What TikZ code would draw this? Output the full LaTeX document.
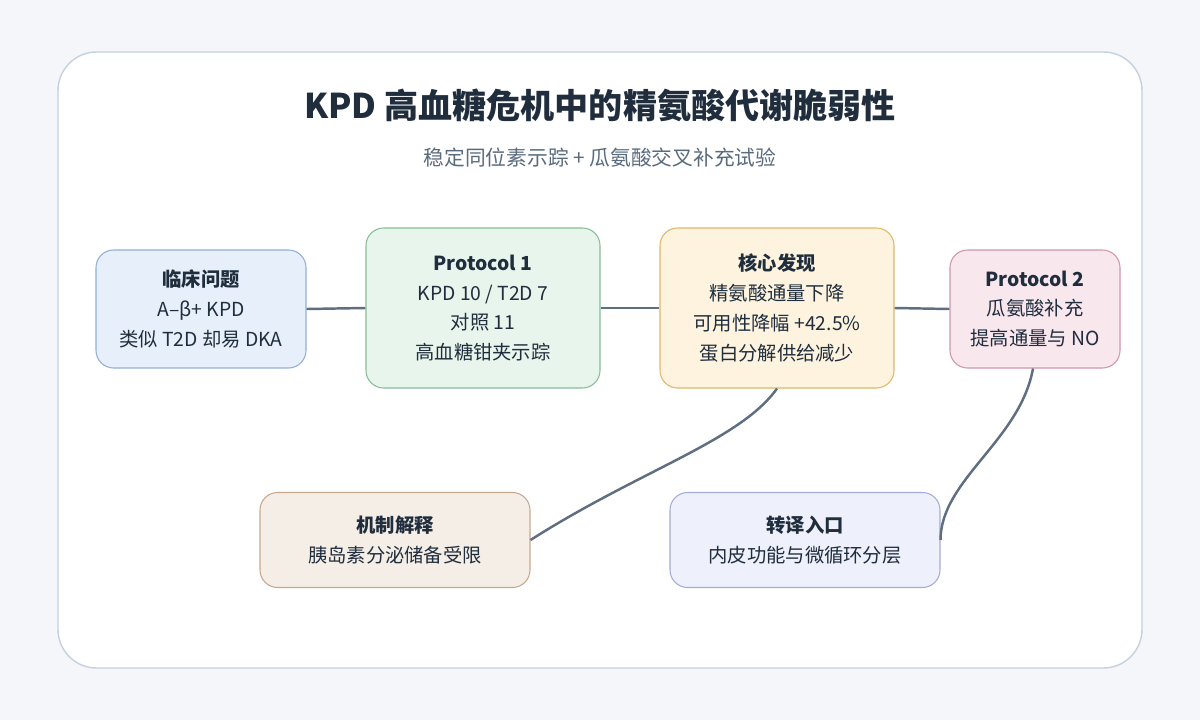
\documentclass[tikz,border=0pt]{standalone}
\usepackage{fontspec}
\setmainfont{Noto Sans CJK SC}
\usetikzlibrary{positioning}
\definecolor{bgc}{HTML}{F4F6F9}
\definecolor{panelb}{HTML}{C3D1E0}
\definecolor{titc}{HTML}{1F2D3D}
\definecolor{subc}{HTML}{5A6B7D}
\definecolor{linec}{HTML}{5F6E80}
\definecolor{clinf}{HTML}{E7F0FA}\definecolor{clind}{HTML}{93AFD6}
\definecolor{pAf}{HTML}{E8F5EC}\definecolor{pAd}{HTML}{86BE97}
\definecolor{coref}{HTML}{FEF3DF}\definecolor{cored}{HTML}{E2B765}
\definecolor{pBf}{HTML}{F9E7EE}\definecolor{pBd}{HTML}{D196AA}
\definecolor{mechf}{HTML}{F4EEE7}\definecolor{mechd}{HTML}{C6A98C}
\definecolor{transf}{HTML}{EEF0FB}\definecolor{transd}{HTML}{A5ACD9}
\tikzset{
    box/.style={draw, rounded corners=10pt, line width=0.6pt, align=center, text=titc,
                font=\fontsize{11}{17}\selectfont},
    link/.style={draw=linec, line width=1.4pt},
  }
\begin{document}
\begin{tikzpicture}[x=0.02cm,y=-0.02cm]
				  \fill[bgc] (0,0) rectangle (1200,720);
				  \draw[panelb, fill=white, line width=0.8pt, rounded corners=22pt] (58,52) rectangle (1142,668);
				  \node[text=titc, font=\bfseries\fontsize{19.4}{22}\selectfont] (title) at (600,105) {KPD 高血糖危机中的精氨酸代谢脆弱性};
				  \node[text=subc, font=\fontsize{11.8}{13}\selectfont] (sub) at (600,158) {稳定同位素示踪 + 瓜氨酸交叉补充试验};
				  \node[box, fill=clinf, draw=clind, minimum width=210*0.02cm, minimum height=118*0.02cm] (clin) at (201,309) {\textbf{临床问题}\\A–β+ KPD\\类似 T2D 却易 DKA};
				  \node[box, fill=pAf, draw=pAd, minimum width=234*0.02cm, minimum height=160*0.02cm] (p1) at (483,308) {\textbf{Protocol 1}\\KPD 10 / T2D 7\\对照 11\\高血糖钳夹示踪};
				  \node[box, fill=coref, draw=cored, minimum width=234*0.02cm, minimum height=160*0.02cm] (core) at (777,308) {\textbf{核心发现}\\精氨酸通量下降\\可用性降幅 +42.5\%\\蛋白分解供给减少};
				  \node[box, fill=pBf, draw=pBd, minimum width=170*0.02cm, minimum height=118*0.02cm] (p2) at (1035,309) {\textbf{Protocol 2}\\瓜氨酸补充\\提高通量与 NO};
				  \node[box, fill=mechf, draw=mechd, minimum width=270*0.02cm, minimum height=95*0.02cm] (mech) at (395,540) {\textbf{机制解释}\\胰岛素分泌储备受限};
				  \node[box, fill=transf, draw=transd, minimum width=270*0.02cm, minimum height=95*0.02cm] (trans) at (805,540) {\textbf{转译入口}\\内皮功能与微循环分层};
				  \draw[link] (clin.east) -- (p1.west);
				  \draw[link] (p1.east) -- (core.west);
				  \draw[link] (core.east) -- (p2.west);
				  \draw[link] (core.south) .. controls +(-37,52) and +(110,-70) .. (mech.east);
				  \draw[link] ([xshift=-2*0.02cm]p2.south) .. controls +(-13,72) and +(0,-60) .. (trans.east);
				  \end{tikzpicture}
\end{document}
